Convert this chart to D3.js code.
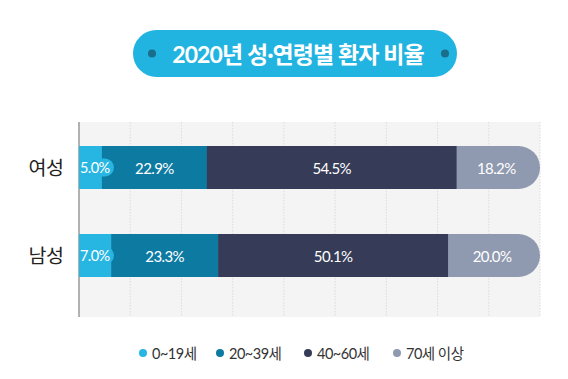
<!DOCTYPE html>
<html>
<head>
<meta charset="utf-8">
<script src="https://cdn.jsdelivr.net/npm/d3@7"></script>
<style>
  html, body { margin: 0; padding: 0; background: #fff; }
  svg { display: block; font-family: Lato, "Noto Sans CJK KR", sans-serif; }
</style>
</head>
<body>
<svg id="chart" width="568" height="379"></svg>
<script>
// data
const titleText = '2020년 성·연령별 환자 비율';
const genders = ['여성', '남성'];
const ageGroups = ['0~19세', '20~39세', '40~60세', '70세 이상'];
const female = [5.0, 22.9, 54.5, 18.2];
const male = [7.0, 23.3, 50.1, 20.0];
const colors = ['#27b5e2', '#0d7aa2', '#363c57', '#8f9ab0'];

const svg = d3.select('#chart');
const width = 568;

const margin = { left: 79, right: 28, top: 122, bottom: 62 };
const plotW = width - margin.left - margin.right;
const plotH = 379 - margin.top - margin.bottom;

// title pill
const title = svg.append('g');
title.append('rect')
    .attr('x', 133).attr('y', 30)
    .attr('width', 324).attr('height', 47)
    .attr('rx', 23.5)
    .attr('fill', '#22b4e0');
title.selectAll('circle')
    .data([152, 445])
    .join('circle')
    .attr('cx', d => d).attr('cy', 53.5).attr('r', 4)
    .attr('fill', '#1a6e8c');
title.append('text')
    .attr('x', 298).attr('y', 54)
    .attr('text-anchor', 'middle')
    .attr('dominant-baseline', 'central')
    .attr('fill', '#fff')
    .attr('font-size', 23)
    .attr('font-weight', 'bold')
    .attr('letter-spacing', -0.9)
    .text(titleText);

const g = svg.append('g').attr('transform', `translate(${margin.left},${margin.top})`);

// background and dotted grid
g.append('rect')
    .attr('width', plotW).attr('height', plotH)
    .attr('fill', '#f4f4f4');

const gridX = d3.scaleLinear().domain([0, 9]).range([0, plotW]);
g.selectAll('line.grid')
    .data(d3.range(1, 10))
    .join('line')
    .attr('class', 'grid')
    .attr('x1', d => gridX(d)).attr('x2', d => gridX(d))
    .attr('y1', 0).attr('y2', plotH)
    .attr('stroke', '#dcdcdc')
    .attr('stroke-dasharray', '1.5,1.5');

g.append('line')
    .attr('x1', 0).attr('x2', 0)
    .attr('y1', 0).attr('y2', plotH)
    .attr('stroke', '#9a9a9a')
    .attr('stroke-width', 1.5);

// bar centres
const y = d3.scalePoint().domain(genders).range([45.5, 133.5]);
const barH = 43;

const rows = [female, male].map((vals, i) => {
    const total = d3.sum(vals);
    const x = d3.scaleLinear().domain([0, total]).range([0, plotW]);
    let acc = 0;
    const segs = vals.map((v, j) => {
        const s = { x0: x(acc), x1: x(acc + v), v, j };
        acc += v;
        return s;
    });
    return { name: genders[i], segs };
});

const rowG = g.selectAll('g.row')
    .data(rows)
    .join('g')
    .attr('class', 'row')
    .attr('transform', d => `translate(0,${y(d.name) - barH / 2})`);

rowG.each(function (row) {
    const r = d3.select(this);
    const rad = barH / 2;
    row.segs.forEach((s, j) => {
        const w = s.x1 - s.x0;
        if (j === row.segs.length - 1) {
            // rounded right end
            r.append('path')
                .attr('d', `M${s.x0},0H${s.x1 - rad}A${rad},${rad} 0 0 1 ${s.x1 - rad},${barH}H${s.x0}Z`)
                .attr('fill', colors[j]);
        } else {
            r.append('rect')
                .attr('x', s.x0).attr('width', w + 0.5)
                .attr('height', barH)
                .attr('fill', colors[j]);
        }
    });
    row.segs.forEach((s, j) => {
        const small = j === 0;
        if (small) {
            r.append('rect')
                .attr('x', s.x0 + 1).attr('y', barH / 2 - 9)
                .attr('width', 34).attr('height', 18).attr('rx', 9)
                .attr('fill', colors[0]);
        }
        r.append('text')
            .attr('x', small ? s.x0 + 1 : (s.x0 + s.x1) / 2 - (j === 3 ? 2 : 0))
            .attr('y', barH / 2)
            .attr('dominant-baseline', 'central')
            .attr('text-anchor', small ? 'start' : 'middle')
            .attr('fill', '#fff')
            .attr('font-size', small ? 14.5 : 15)
            .attr('letter-spacing', -0.6)
            .text(s.v.toFixed(1) + '%');
    });
});

// category labels
g.selectAll('text.cat')
    .data(genders)
    .join('text')
    .attr('class', 'cat')
    .attr('x', -33)
    .attr('y', d => y(d))
    .attr('text-anchor', 'middle')
    .attr('dominant-baseline', 'central')
    .attr('fill', '#222')
    .attr('font-size', 19.5)
    .attr('letter-spacing', -0.5)
    .text(d => d);

// legend
const legendX = [143, 220, 308, 397];
const legend = svg.append('g').selectAll('g')
    .data(ageGroups)
    .join('g')
    .attr('transform', (d, i) => `translate(${legendX[i]},353)`);
legend.append('circle').attr('r', 4).attr('fill', (d, i) => colors[i]);
legend.append('text')
    .attr('x', 9)
    .attr('dominant-baseline', 'central')
    .attr('font-size', 14.5)
    .attr('fill', '#333')
    .attr('letter-spacing', -0.5)
    .text(d => d);
</script>
</body>
</html>
